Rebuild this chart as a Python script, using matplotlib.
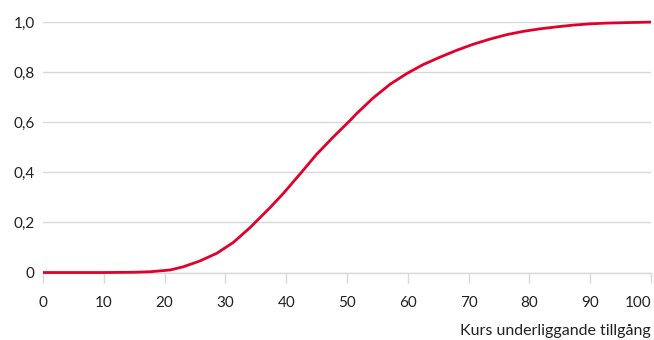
import matplotlib.pyplot as plt

# values
kurs = [0, 10, 15, 17.6, 20.9, 23.1, 25.8, 28.6, 31.3, 34.0, 37.3, 39.5, 42.3, 45.0,
        47.7, 50.5, 51.6, 54.3, 57.1, 59.8, 62.5, 65.3, 68.0, 70.7, 73.5, 76.3,
        79.0, 81.7, 84.5, 87.2, 90.0, 92.7, 96.0, 100]
delta = [0, 0, 0.001, 0.003, 0.01, 0.023, 0.046, 0.077, 0.12, 0.178, 0.258, 0.315,
         0.394, 0.472, 0.54, 0.607, 0.635, 0.697, 0.752, 0.794, 0.830, 0.860, 0.887,
         0.911, 0.932, 0.950, 0.963, 0.973, 0.981, 0.988, 0.993, 0.996, 0.998, 1.0]
xticks = list(range(0, 101, 10))
yticks = [0, 0.2, 0.4, 0.6, 0.8, 1.0]
ylabels = ['0', '0,2', '0,4', '0,6', '0,8', '1,0']

plt.rcParams['font.family'] = ['Lato', 'DejaVu Sans']
fig = plt.figure(figsize=(6.54, 3.4), dpi=100)
ax = fig.add_axes([0.0657, 0.1985, 0.9297, 0.7365])

ax.plot(kurs, delta, color='#E2002B', lw=2.0, clip_on=False, zorder=3,
        solid_capstyle='butt', solid_joinstyle='round')

ax.set_xlim(0, 100)
ax.set_ylim(0, 1)
ax.set_xticks(xticks)
ax.set_yticks(yticks)
ax.set_yticklabels(ylabels)
ax.grid(axis='y', color='#D9D9D9', lw=1)
ax.set_axisbelow(True)
for s in ['left', 'right', 'top']:
    ax.spines[s].set_visible(False)
ax.spines['bottom'].set_color('#D9D9D9')
ax.spines['bottom'].set_linewidth(1)
ax.tick_params(axis='y', length=0, pad=6, labelsize=11, labelcolor='#222222')
ax.tick_params(axis='x', length=7, width=1, color='#D9D9D9', pad=10,
               labelsize=11, labelcolor='#222222')
ax.get_xticklabels()[-1].set_horizontalalignment('right')
ax.set_xlabel('Kurs underliggande tillgång', fontsize=11.5, color='#222222',
              loc='right', labelpad=10)

fig.savefig('out.png', dpi=100)
